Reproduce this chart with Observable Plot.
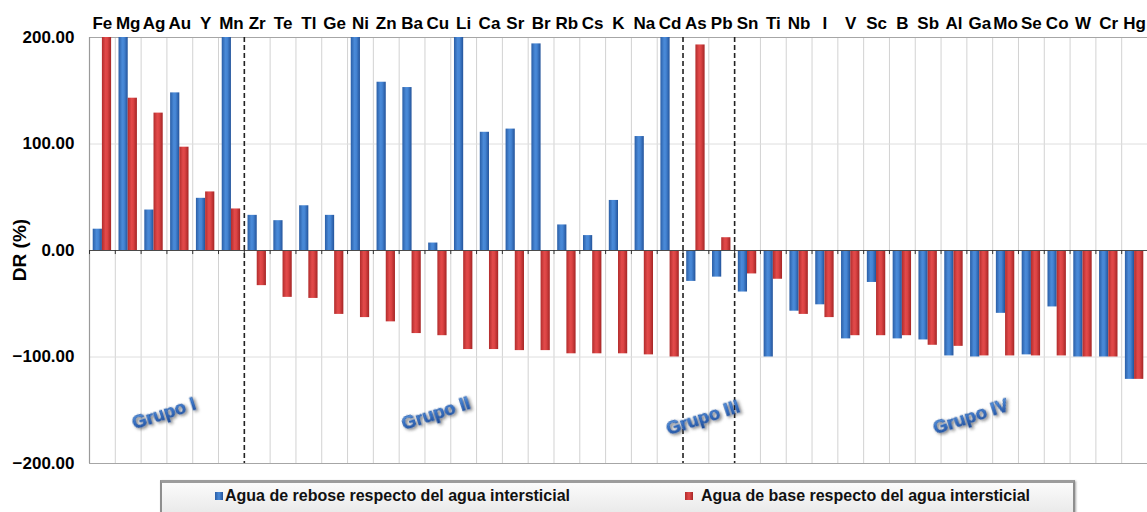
<!DOCTYPE html>
<html>
<head>
<meta charset="utf-8">
<script src="https://cdn.jsdelivr.net/npm/d3@7"></script>
<script src="https://cdn.jsdelivr.net/npm/@observablehq/plot@0.6"></script>
<style>
  body { margin: 0; background: #fff; font-family: "Liberation Sans", Arial, sans-serif; }
  #wrap { position: relative; width: 1147px; height: 512px; overflow: hidden; }
  #legend {
    position: absolute; left: 160px; top: 480px; width: 915px; height: 34px;
    box-sizing: border-box;
    border: 2px solid #8e8e8e; border-top: 3px solid #9c9c9c;
    background: linear-gradient(#fbfbfb, #eaeaea);
    box-shadow: 1px 1px 2px rgba(0,0,0,0.35);
    display: flex; justify-content: space-between; align-items: flex-start;
    padding: 4px 43px 0 53px;
    font-size: 16px; font-weight: bold; color: #111;
  }
  #legend .item { display: flex; align-items: center; white-space: nowrap; }
  #legend .sw { width: 8px; height: 8px; margin-right: 2px; }
  #legend .item + .item .sw { margin-right: 8px; }
</style>
</head>
<body>
<div id="wrap">
  <div id="chart"></div>
  <div id="legend"></div>
</div>
<script>
// Elements in plotted order
const elements = ["Fe","Mg","Ag","Au","Y","Mn","Zr","Te","Tl","Ge","Ni","Zn","Ba","Cu","Li","Ca","Sr","Br","Rb","Cs","K","Na","Cd","As","Pb","Sn","Ti","Nb","I","V","Sc","B","Sb","Al","Ga","Mo","Se","Co","W","Cr","Hg"];

// DR (%) — overflow water vs. interstitial water
const rebose = [20, 200, 38, 148, 49, 200, 33, 28, 42, 33, 200, 158, 153, 7, 200, 111, 114, 194, 24, 14, 47, 107, 200, -29, -25, -39, -100, -57, -51, -83, -30, -83, -84, -99, -100, -59, -98, -53, -100, -100, -121];

// DR (%) — bottom water vs. interstitial water
const base = [200, 143, 129, 97, 55, 39, -33, -44, -45, -60, -63, -67, -78, -80, -93, -93, -94, -94, -97, -97, -97, -98, -100, 193, 12, -22, -27, -60, -63, -80, -80, -80, -89, -90, -99, -99, -99, -99, -100, -100, -121];

const seriesNames = ["Agua de rebose respecto del agua intersticial", "Agua de base respecto del agua intersticial"];
const yTicks = [-200, -100, 0, 100, 200];
const gridValues = [-100, 100];
const frameValues = [-200, 200];
const groupNames = ["Grupo I", "Grupo II", "Grupo III", "Grupo IV"];
// first element of each group after the first
const groupStarts = ["Zr", "As", "Sn"];

const rows = elements.map((e, i) => ({element: e, rebose: rebose[i], base: base[i]}));

const W = 1147, H = 476, ML = 89, MR = 0, MT = 37, MB = 13;
const bw = (W - ML - MR) / elements.length;  // band width
const barW = 9.2, outer = (bw - 2 * barW) / 2;

const font = "Liberation Sans, Arial, sans-serif";
const groupText = {rotate: -18, fontSize: 18.5, fontWeight: "bold", fill: "url(#gradText)", text: d => d};

const chart = Plot.plot({
  width: W, height: H,
  marginLeft: ML, marginRight: MR, marginTop: MT, marginBottom: MB,
  style: {fontFamily: font, color: "#000", background: "#fff"},
  x: {type: "band", domain: elements, padding: 0, axis: null},
  y: {domain: [-200, 200], axis: null},
  marks: [
    // vertical grid at band boundaries
    Plot.ruleX(elements.filter(e => !groupStarts.includes(e)), {x: d => d, dx: -bw / 2, stroke: "#d2d2d2", strokeWidth: 1}),
    // horizontal grid
    Plot.ruleY(gridValues, {stroke: "#dedede", strokeWidth: 1}),
    Plot.ruleY(frameValues, {stroke: "#a6a6a6", strokeWidth: 1.2}),
    // left axis line
    Plot.ruleX(elements.slice(0, 1), {x: d => d, dx: -bw / 2, stroke: "#9a9a9a", strokeWidth: 1.2}),
    // bars
    Plot.barY(rows, {x: "element", y: "rebose", fill: "url(#gradBlue)", insetLeft: outer, insetRight: bw / 2}),
    Plot.barY(rows, {x: "element", y: "base", fill: "url(#gradRed)", insetLeft: bw / 2, insetRight: outer}),
    // zero line and its ticks
    Plot.ruleY([0], {stroke: "#4a4a4a", strokeWidth: 1.2}),
    Plot.ruleX(elements, {x: d => d, dx: -bw / 2, y1: 0, y2: -3.8, stroke: "#333", strokeWidth: 1}),
    // group separators
    Plot.ruleX(groupStarts, {x: d => d, dx: -bw / 2, stroke: "#222", strokeWidth: 1.6, strokeDasharray: "5,3"}),
    // axes
    Plot.axisX({anchor: "top", tickSize: 0, tickPadding: 9, fontSize: 17, fontWeight: "bold", label: null}),
    Plot.axisY({ticks: yTicks, tickFormat: d3.format(".2f"), tickSize: 0, tickPadding: 15, fontSize: 17, fontWeight: "bold", label: null}),
    // group labels
    Plot.text([groupNames[0]], {...groupText, x: () => "Ag", y: () => -153, dx: 10}),
    Plot.text([groupNames[1]], {...groupText, x: () => "Cu", y: () => -153, dx: -2}),
    Plot.text([groupNames[2]], {...groupText, x: () => "As", y: () => -157, dx: 7}),
    Plot.text([groupNames[3]], {...groupText, x: () => "Ga", y: () => -156, dx: -9})
  ]
});

// gradients and shadow used by the marks above
const svg = d3.select(chart);
const defs = svg.insert("defs", ":first-child");
function hGrad(id, stops) {
  const g = defs.append("linearGradient").attr("id", id).attr("x1", "0").attr("x2", "1").attr("y1", "0").attr("y2", "0");
  stops.forEach(([o, c]) => g.append("stop").attr("offset", o).attr("stop-color", c));
}
hGrad("gradBlue", [[0, "#2a5ea6"], [0.4, "#4a8ad8"], [0.6, "#4585d4"], [1, "#23539a"]]);
hGrad("gradRed", [[0, "#b12c2c"], [0.4, "#e24a4a"], [0.6, "#dc4444"], [1, "#a42525"]]);
const tg = defs.append("linearGradient").attr("id", "gradText").attr("x1", "0").attr("x2", "0").attr("y1", "0").attr("y2", "1");
tg.append("stop").attr("offset", 0).attr("stop-color", "#6aa6ea");
tg.append("stop").attr("offset", 0.5).attr("stop-color", "#3672c8");
tg.append("stop").attr("offset", 1).attr("stop-color", "#1c4894");
const f = defs.append("filter").attr("id", "txtShadow").attr("x", "-20%").attr("y", "-40%").attr("width", "140%").attr("height", "180%");
f.append("feDropShadow").attr("dx", 1.5).attr("dy", 2).attr("stdDeviation", 1.5).attr("flood-color", "#222").attr("flood-opacity", 0.6);
svg.selectAll("text").filter(function () { return groupNames.includes(this.textContent); })
  .attr("filter", "url(#txtShadow)").attr("stroke", "#24549c").attr("stroke-width", 0.5);

// y axis title
const y0 = chart.scale("y").apply(0);
svg.append("text")
  .attr("transform", `translate(26,${y0}) rotate(-90)`)
  .attr("text-anchor", "middle")
  .attr("font-family", font).attr("font-size", 19).attr("font-weight", "bold")
  .text("DR (%)");

document.getElementById("chart").appendChild(chart);

// legend
const legend = d3.select("#legend");
const swatchFills = ["linear-gradient(90deg,#2a5ea6,#4a8ad8,#23539a)", "linear-gradient(90deg,#b12c2c,#e24a4a,#a42525)"];
seriesNames.forEach((name, i) => {
  const item = legend.append("div").attr("class", "item");
  item.append("div").attr("class", "sw").style("background", swatchFills[i]);
  item.append("span").text(name);
});
</script>
</body>
</html>
